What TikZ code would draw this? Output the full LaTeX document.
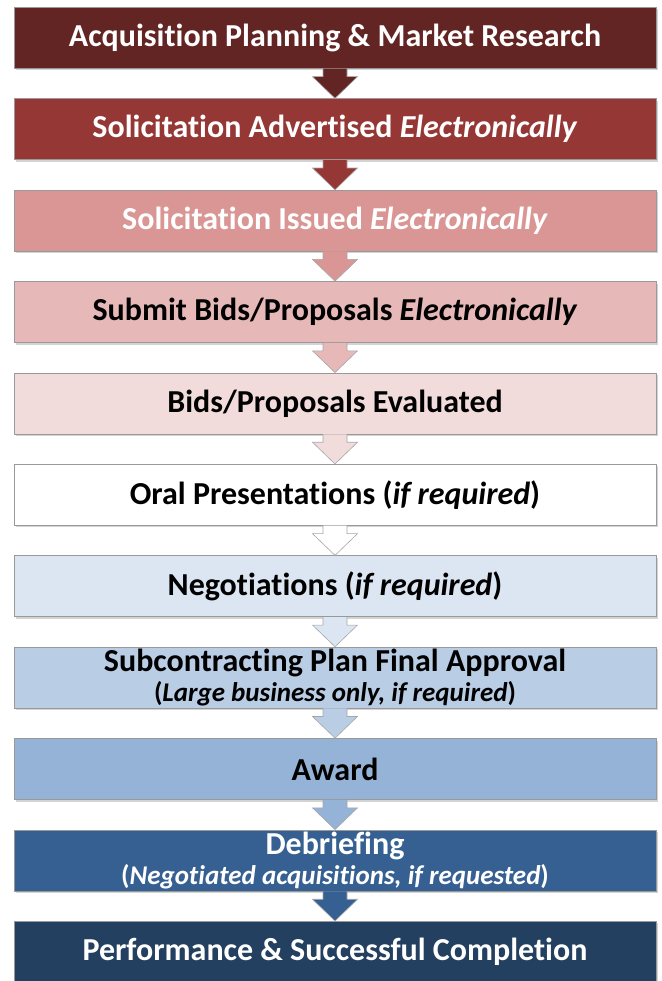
\documentclass[tikz,border=0pt]{standalone}
\usepackage{fontspec}
\setmainfont{Carlito}[Ligatures=NoCommon]
\usepackage{xcolor}
\usepackage{tikz}
\usetikzlibrary{calc, shadows}

\definecolor{planning}{RGB}{99,37,35}
\definecolor{advertised}{RGB}{149,55,53}
\definecolor{issued}{RGB}{217,150,148}
\definecolor{submit}{RGB}{230,185,184}
\definecolor{evaluated}{RGB}{242,220,219}
\definecolor{oral}{RGB}{255,255,255}
\definecolor{negotiate}{RGB}{220,230,242}
\definecolor{subplan}{RGB}{185,205,229}
\definecolor{award}{RGB}{149,179,215}
\definecolor{debrief}{RGB}{55,96,146}
\definecolor{perform}{RGB}{36,64,96}

\newcommand{\subline}{\fontsize{27}{28}\selectfont}

% block arrow from the bottom of one box to the top of the next
\newcommand{\flowarrow}[3]{%
  \draw[flow, fill=#3] ($(#1.south)+(-12,0)$) -- ($(#1.south)+(-12,-8)$) -- ($(#1.south)+(-22.5,-8)$)
    -- (#2.north) -- ($(#1.south)+(22.5,-8)$) -- ($(#1.south)+(12,-8)$) -- ($(#1.south)+(12,0)$);
}

\begin{document}
\begin{tikzpicture}[x=1pt, y=1pt,
    box/.style={draw=black!40, line width=0.7pt, minimum width=642pt, minimum height=61pt, inner sep=0pt, align=center,
      font=\bfseries\fontsize{32}{32}\selectfont,
      drop shadow={shadow xshift=1.5pt, shadow yshift=-2pt, opacity=0.35}},
    flow/.style={draw=black!35, line width=0.6pt}]
    \useasboundingbox (0,0) rectangle (661,-981);

    % Steps
    \node[box, fill=planning, text=white] (s1) at (335,-37.8) {Acquisition Planning \& Market Research};
    \node[box, fill=advertised, text=white] (s2) at (335,-129.2) {Solicitation Advertised \textit{Electronically}};
    \node[box, fill=issued, text=white] (s3) at (335,-220.6) {Solicitation Issued \textit{Electronically}};
    \node[box, fill=submit] (s4) at (335,-312) {Submit Bids/Proposals \textit{Electronically}};
    \node[box, fill=evaluated] (s5) at (335,-403.4) {Bids/Proposals Evaluated};
    \node[box, fill=oral] (s6) at (335,-494.8) {Oral Presentations (\textit{if required})};
    \node[box, fill=negotiate] (s7) at (335,-586.2) {Negotiations (\textit{if required})};
    \node[box, fill=subplan] (s8) at (335,-677.6) {Subcontracting Plan Final Approval\\[-2pt]
      {\subline(\textit{Large business only, if required})}};
    \node[box, fill=award] (s9) at (335,-769) {Award};
    \node[box, fill=debrief, text=white] (s10) at (335,-860.4) {Debriefing\\[-2pt]
      {\subline(\textit{Negotiated acquisitions, if requested})}};
    \node[box, fill=perform, text=white] (s11) at (335,-951.8) {Performance \& Successful Completion};

    % Arrows
    \flowarrow{s1}{s2}{planning}
    \flowarrow{s2}{s3}{advertised}
    \flowarrow{s3}{s4}{issued}
    \flowarrow{s4}{s5}{submit}
    \flowarrow{s5}{s6}{evaluated}
    \flowarrow{s6}{s7}{oral}
    \flowarrow{s7}{s8}{negotiate}
    \flowarrow{s8}{s9}{subplan}
    \flowarrow{s9}{s10}{award}
    \flowarrow{s10}{s11}{debrief}
\end{tikzpicture}
\end{document}
